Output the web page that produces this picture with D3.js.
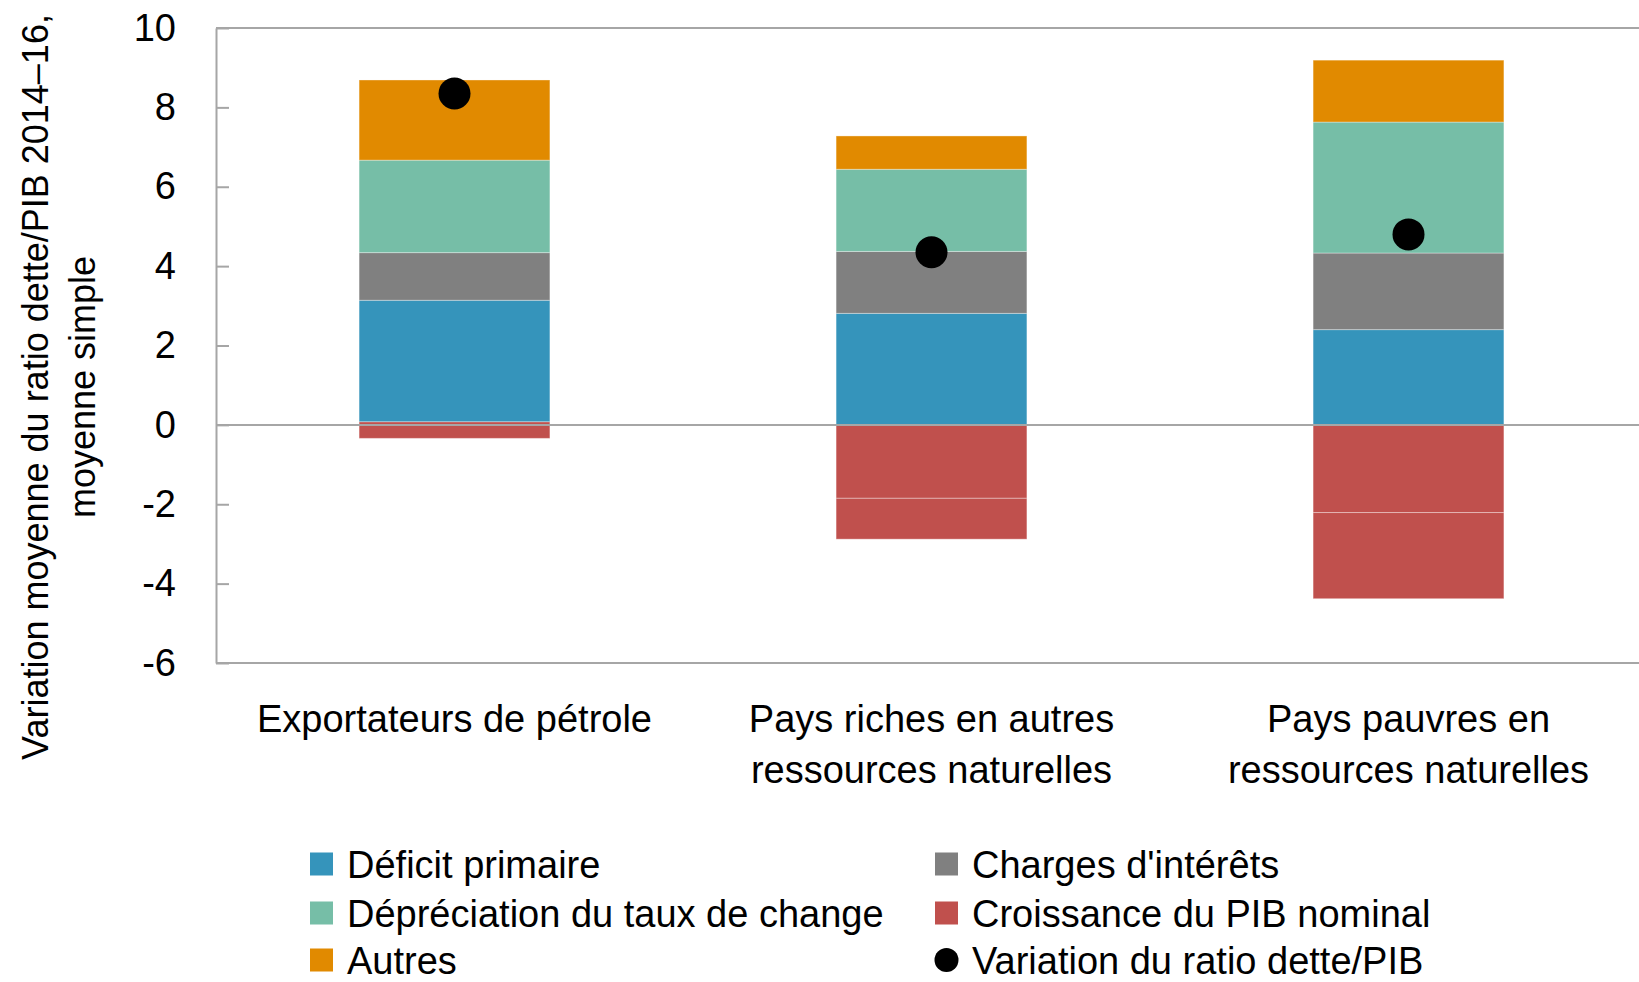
<!DOCTYPE html>
<html>
<head>
<meta charset="utf-8">
<script src="https://cdn.jsdelivr.net/npm/d3@7"></script>
<style>
  body { margin: 0; background: #fff; }
  text { font-family: "Liberation Sans", Arial, sans-serif; fill: #000; }
</style>
</head>
<body>
<svg id="chart" width="1639" height="982"></svg>
<script>
// categories and series
var categories = ["Exportateurs de pétrole", "Pays riches en autres ressources naturelles", "Pays pauvres en ressources naturelles"];
var categoryLines = [["Exportateurs de pétrole"], ["Pays riches en autres", "ressources naturelles"], ["Pays pauvres en", "ressources naturelles"]];
var croissanceA = [0.08, -1.85, -2.21];
var croissanceB = [-0.34, -1.03, -2.17];
var deficit = [3.06, 2.81, 2.40];
var charges = [1.20, 1.56, 1.93];
var depreciation = [2.33, 2.07, 3.30];
var autres = [2.02, 0.84, 1.56];
var variation = [8.35, 4.35, 4.80];
var yTicks = [-6, -4, -2, 0, 2, 4, 6, 8, 10];

var seriesKeys = ["croissanceA", "croissanceB", "deficit", "charges", "depreciation", "autres"];
var colors = {
    croissanceA: "#c0504d", croissanceB: "#c0504d", deficit: "#3594bb",
    charges: "#808080", depreciation: "#76bea7", autres: "#e18a00"
};

var rows = categories.map(function (c, i) {
    return {
        cat: c,
        croissanceA: croissanceA[i], croissanceB: croissanceB[i],
        deficit: deficit[i], charges: charges[i],
        depreciation: depreciation[i], autres: autres[i]
    };
});

var svg = d3.select("#chart");
var plotLeft = 216, plotRight = 1647, plotTop = 28, plotBottom = 663;

var x = d3.scaleBand().domain(categories).range([plotLeft, plotRight])
    .paddingInner(0.6).paddingOuter(0.3);
var y = d3.scaleLinear().domain([-6, 10]).range([plotBottom, plotTop]);

// bars
var stacked = d3.stack().keys(seriesKeys).offset(d3.stackOffsetDiverging)(rows);
svg.append("g").selectAll("g")
    .data(stacked)
    .join("g")
        .attr("fill", function (s) { return colors[s.key]; })
    .selectAll("rect")
    .data(function (s) { return s; })
    .join("rect")
        .attr("x", function (d) { return x(d.data.cat); })
        .attr("width", x.bandwidth())
        .attr("y", function (d) { return y(Math.max(d[0], d[1])); })
        .attr("height", function (d) { return Math.abs(y(d[0]) - y(d[1])); })
        .attr("stroke", "rgba(255,255,255,0.35)")
        .attr("stroke-width", 1);

// frame
var grey = "#a6a6a6";
svg.append("line").attr("x1", plotLeft).attr("x2", plotRight).attr("y1", plotTop).attr("y2", plotTop)
    .attr("stroke", grey).attr("stroke-width", 2);
svg.append("line").attr("x1", plotLeft).attr("x2", plotRight).attr("y1", plotBottom).attr("y2", plotBottom)
    .attr("stroke", grey).attr("stroke-width", 2);
svg.append("line").attr("x1", plotLeft).attr("x2", plotRight).attr("y1", y(0)).attr("y2", y(0))
    .attr("stroke", grey).attr("stroke-width", 2);

// y axis
var yAxis = d3.axisLeft(y).tickValues(yTicks).tickFormat(function (d) { return String(d); })
    .tickSizeInner(-13).tickSizeOuter(0).tickPadding(40);
var ga = svg.append("g").attr("transform", "translate(" + plotLeft + ",0)").call(yAxis);
ga.select(".domain").attr("stroke", grey).attr("stroke-width", 2);
ga.selectAll(".tick line").attr("stroke", grey).attr("stroke-width", 2);
ga.selectAll(".tick text").attr("font-size", 38).attr("font-family", "Liberation Sans, Arial, sans-serif")
    .attr("fill", "#000");

// dots
svg.append("g").selectAll("circle")
    .data(variation)
    .join("circle")
        .attr("cx", function (d, i) { return x(categories[i]) + x.bandwidth() / 2; })
        .attr("cy", function (d) { return y(d); })
        .attr("r", 16)
        .attr("fill", "#000");

// category labels
categoryLines.forEach(function (lines, i) {
    var cx = x(categories[i]) + x.bandwidth() / 2;
    lines.forEach(function (t, j) {
        svg.append("text")
            .attr("x", cx).attr("y", 719 + j * 51)
            .attr("dy", "0.35em")
            .attr("text-anchor", "middle")
            .attr("font-size", 38)
            .text(t);
    });
});

// y title
var yTitle = ["Variation moyenne du ratio dette/PIB 2014–16,", "moyenne simple"];
yTitle.forEach(function (t, j) {
    svg.append("text")
        .attr("transform", "translate(" + (48 + j * 47) + ",387) rotate(-90)")
        .attr("text-anchor", "middle")
        .attr("font-size", 36)
        .text(t);
});

// legend
var legendItems = [
    { label: "Déficit primaire", color: colors.deficit, col: 0, row: 0 },
    { label: "Dépréciation du taux de change", color: colors.depreciation, col: 0, row: 1 },
    { label: "Autres", color: colors.autres, col: 0, row: 2 },
    { label: "Charges d'intérêts", color: colors.charges, col: 1, row: 0 },
    { label: "Croissance du PIB nominal", color: colors.croissanceA, col: 1, row: 1 },
    { label: "Variation du ratio dette/PIB", color: "#000", col: 1, row: 2, dot: true }
];
var legendX = [310, 935], legendY = [865, 914, 961];
legendItems.forEach(function (d) {
    var lx = legendX[d.col], ly = legendY[d.row];
    if (d.dot) {
        svg.append("circle").attr("cx", lx + 11.5).attr("cy", ly - 1).attr("r", 12).attr("fill", d.color);
    } else {
        svg.append("rect").attr("x", lx).attr("y", ly - 12.5).attr("width", 23).attr("height", 23)
            .attr("fill", d.color);
    }
    svg.append("text").attr("x", lx + 37).attr("y", ly).attr("dy", "0.35em")
        .attr("font-size", 38).text(d.label);
});
</script>
</body>
</html>
